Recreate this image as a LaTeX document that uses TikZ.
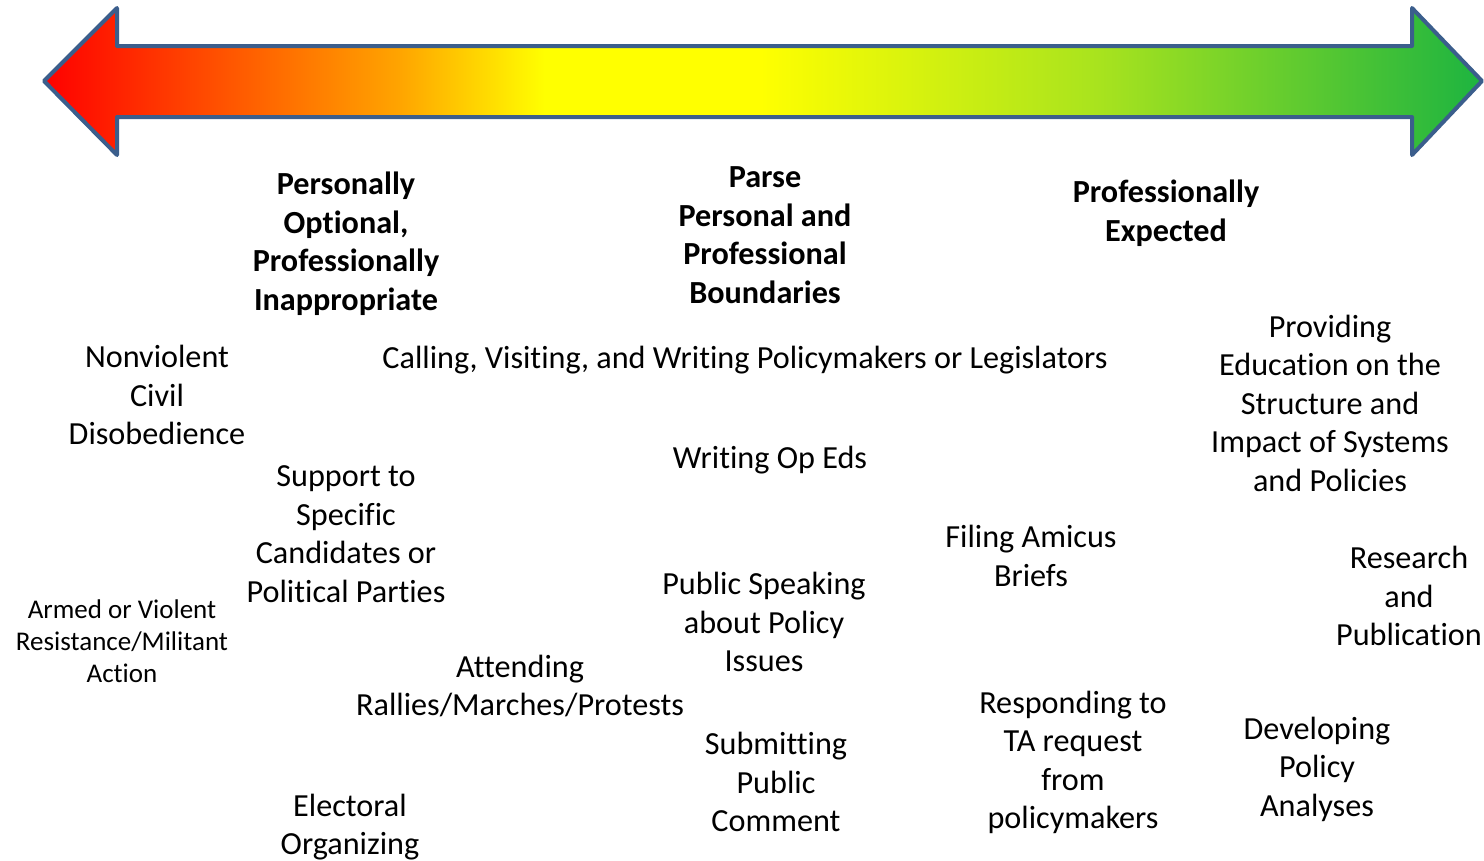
\documentclass[tikz,border=0pt]{standalone}
\usepackage{fontspec}
\setmainfont{Carlito}[Ligatures=NoCommon]
\definecolor{arrowedge}{RGB}{59,94,140}
\definecolor{redend}{RGB}{255,0,0}
\definecolor{orangemid}{RGB}{255,165,0}
\definecolor{yellowmid}{RGB}{255,255,0}
\definecolor{limemid}{RGB}{168,227,30}
\definecolor{greenend}{RGB}{29,180,64}
\pgfdeclarehorizontalshading{redtogreen}{100bp}{color(0bp)=(redend); color(25bp)=(redend);
  color(37.4bp)=(orangemid); color(42.4bp)=(yellowmid); color(49.9bp)=(yellowmid);
  color(61.7bp)=(limemid); color(75bp)=(greenend); color(100bp)=(greenend)}

\begin{document}
\begin{tikzpicture}[x=1pt,y=-1pt]
  \tikzset{heading/.style={font=\bfseries\fontsize{32.2}{38.5}\selectfont, align=center},
           activity/.style={font=\fontsize{32.2}{38.5}\selectfont, align=center},
           smallactivity/.style={font=\fontsize{27}{32}\selectfont, align=center}}
  \useasboundingbox (0,0) rectangle (1484,860);
  % double headed arrow
  \draw[arrowedge, line width=4pt, line join=round, shading=redtogreen]
    (44,81) -- (117,8) -- (117,46) -- (1412,46) -- (1412,8) -- (1482,81)
    -- (1412,155) -- (1412,117) -- (117,117) -- (117,155) -- cycle;
  % headings
  \node[heading] (inappropriate) at (346,243.5) {Personally\\Optional,\\Professionally\\Inappropriate};
  \node[heading] (parse) at (765,235) {Parse\\Personal and\\Professional\\Boundaries};
  \node[heading] (expected) at (1166,213) {Professionally\\Expected};
  % activities
  \node[activity] (disobedience) at (157,395) {Nonviolent\\Civil\\Disobedience};
  \node[activity] (calling) at (745,360) {Calling, Visiting, and Writing Policymakers or Legislators};
  \node[activity] (providing) at (1330,403) {Providing\\Education on the\\Structure and\\Impact of Systems\\and Policies};
  \node[activity] (opeds) at (770,460) {Writing Op Eds};
  \node[activity] (support) at (346,534) {Support to\\Specific\\Candidates or\\Political Parties};
  \node[activity] (amicus) at (1031,556) {Filing Amicus\\Briefs};
  \node[activity] (research) at (1409,596) {Research\\and\\Publication};
  \node[activity] (speaking) at (764,622) {Public Speaking\\about Policy\\Issues};
  \node[smallactivity] (armed) at (122,641) {Armed or Violent\\Resistance/Militant\\Action};
  \node[activity] (rallies) at (520,686) {Attending\\Rallies/Marches/Protests};
  \node[activity] (responding) at (1073,762.5) {Responding to\\TA request\\from\\policymakers};
  \node[activity] (developing) at (1317,769) {Developing\\Policy\\Analyses};
  \node[activity] (comment) at (776,782) {Submitting\\Public\\Comment};
  \node[activity] (electoral) at (350,827) {Electoral\\Organizing};
\end{tikzpicture}
\end{document}
